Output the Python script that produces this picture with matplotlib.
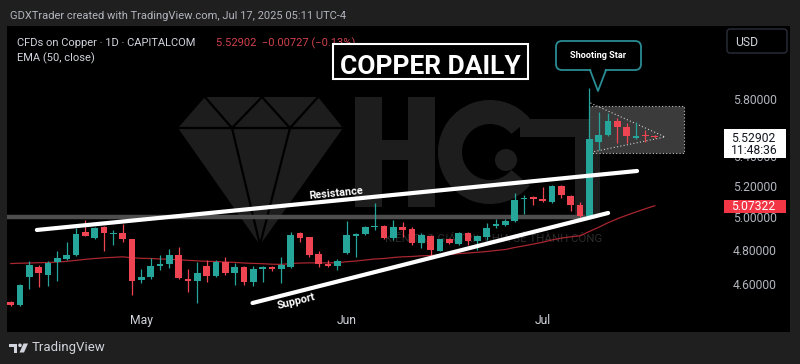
import numpy as np
import pandas as pd
import matplotlib
matplotlib.use("Agg")
import matplotlib.pyplot as plt
from matplotlib.patches import Rectangle, FancyBboxPatch, Polygon, Circle, Wedge
from matplotlib.ticker import NullLocator

plt.rcParams['font.family'] = ['Roboto', 'DejaVu Sans']

W, H = 800, 364

# daily bars, Apr 11 - Jul 17 2025 (weekdays)
dates = pd.bdate_range("2025-04-11", "2025-07-17")

opens = [4.496, 4.479, 4.639, 4.698, 4.651, 4.727, 4.745, 4.769, 4.909, 4.872,
         4.940, 4.896, 4.903, 4.866, 4.622, 4.639, 4.705, 4.716, 4.769, 4.628,
         4.616, 4.704, 4.645, 4.727, 4.663, 4.698, 4.610, 4.688, 4.698, 4.683,
         4.698, 4.903, 4.878, 4.775, 4.713, 4.704, 4.781, 4.886, 4.896, 4.941,
         4.946, 4.872, 4.940, 4.927, 4.841, 4.884, 4.793, 4.866, 4.835, 4.903,
         4.853, 4.878, 4.948, 4.952, 4.977, 5.116, 5.129, 5.116, 5.097, 5.200,
         5.135, 5.078, 5.004, 5.496, 5.544, 5.642, 5.600, 5.525, 5.547, 5.535]
highs = [4.499, 4.599, 4.733, 4.710, 4.733, 4.793, 4.847, 4.933, 4.983, 4.940,
         4.943, 4.921, 4.958, 4.868, 4.686, 4.751, 4.769, 4.805, 4.817, 4.686,
         4.727, 4.739, 4.739, 4.757, 4.721, 4.701, 4.701, 4.704, 4.704, 4.757,
         4.909, 4.909, 4.880, 4.793, 4.739, 4.745, 4.977, 4.903, 4.946, 5.091,
         4.952, 4.983, 4.971, 4.940, 4.903, 4.890, 4.868, 4.872, 4.909, 4.909,
         4.890, 4.964, 4.989, 4.989, 5.155, 5.142, 5.135, 5.194, 5.207, 5.207,
         5.142, 5.097, 5.878, 5.706, 5.699, 5.663, 5.628, 5.635, 5.579, 5.544]
lows = [4.476, 4.473, 4.570, 4.581, 4.587, 4.616, 4.739, 4.763, 4.881, 4.866,
        4.793, 4.829, 4.847, 4.536, 4.604, 4.628, 4.680, 4.692, 4.630, 4.553,
        4.490, 4.610, 4.639, 4.651, 4.593, 4.593, 4.587, 4.610, 4.674, 4.604,
        4.692, 4.847, 4.757, 4.698, 4.695, 4.680, 4.775, 4.757, 4.890, 4.921,
        4.866, 4.860, 4.878, 4.829, 4.811, 4.751, 4.791, 4.835, 4.829, 4.829,
        4.799, 4.860, 4.933, 4.948, 4.971, 5.021, 5.078, 5.097, 5.091, 5.123,
        5.040, 5.002, 5.000, 5.441, 5.537, 5.489, 5.489, 5.516, 5.496, 5.523]
closes = [4.479, 4.593, 4.710, 4.663, 4.721, 4.751, 4.769, 4.896, 4.884, 4.933,
          4.903, 4.904, 4.866, 4.616, 4.639, 4.704, 4.716, 4.769, 4.633, 4.616,
          4.663, 4.645, 4.727, 4.663, 4.698, 4.610, 4.686, 4.698, 4.683, 4.707,
          4.890, 4.872, 4.769, 4.716, 4.704, 4.733, 4.890, 4.894, 4.940, 4.948,
          4.872, 4.940, 4.921, 4.841, 4.890, 4.799, 4.866, 4.841, 4.903, 4.853,
          4.884, 4.933, 4.956, 4.979, 5.110, 5.124, 5.116, 5.105, 5.200, 5.142,
          5.078, 5.008, 5.514, 5.544, 5.644, 5.600, 5.537, 5.537, 5.536, 5.529]
ema50 = [4.718, 4.720, 4.721, 4.723, 4.724, 4.727, 4.731, 4.737, 4.743, 4.748,
         4.752, 4.755, 4.758, 4.752, 4.749, 4.748, 4.745, 4.744, 4.740, 4.737,
         4.734, 4.731, 4.730, 4.727, 4.725, 4.721, 4.719, 4.717, 4.714, 4.713,
         4.718, 4.721, 4.722, 4.722, 4.722, 4.723, 4.729, 4.733, 4.739, 4.745,
         4.748, 4.754, 4.758, 4.760, 4.764, 4.766, 4.769, 4.773, 4.777, 4.781,
         4.785, 4.790, 4.796, 4.802, 4.814, 4.824, 4.835, 4.846, 4.860, 4.871,
         4.879, 4.885, 4.912, 4.938, 4.966, 4.991, 5.013, 5.034, 5.054, 5.073]

last_price = 5.52902
last_change = -0.00727
last_pct = -0.13
ema_last = 5.07322
price_ticks = [4.6, 4.8, 5.0, 5.2, 5.4, 5.8]

# drawings (bar index, price)
level_price = 5.0
level_bars = [-0.4, 61.5]
res_bars, res_prices = [2.8, 67.1], [4.921, 5.299]
sup_bars, sup_prices = [25.9, 64.0], [4.490, 5.027]
box_bars, box_prices = [62.0, 72.1], [5.420, 5.749]
tri_bars, tri_prices = [62.1, 70.1, 62.3], [5.771, 5.530, 5.427]

GREEN = '#26a69a'
RED = '#ef4451'
TXT = '#d1d4dc'
WM = '#1d1d1d'

fig = plt.figure(figsize=(W / 100, H / 100), dpi=100, facecolor='#1f1f1f')

# background: black panel + watermark
bg = fig.add_axes([0, 0, 1, 1], zorder=0)
bg.set_xlim(0, W)
bg.set_ylim(H, 0)
bg.axis('off')
bg.add_patch(Rectangle((7, 26), 783, 306, fc='black', lw=0))
bg.add_patch(Polygon([(205, 97), (318, 97), (343, 128), (260, 245), (178, 128)], fc=WM, lw=0))
for seg in [((178, 128), (343, 128)), ((205, 97), (232, 128)), ((262, 97), (232, 128)),
            ((262, 97), (290, 128)), ((318, 97), (290, 128)),
            ((232, 128), (260, 245)), ((290, 128), (260, 245))]:
    bg.plot([seg[0][0], seg[1][0]], [seg[0][1], seg[1][1]], color='black', lw=1.6)
bg.add_patch(Rectangle((355, 97), 27, 110, fc=WM, lw=0))
bg.add_patch(Rectangle((408, 97), 27, 110, fc=WM, lw=0))
bg.add_patch(Rectangle((380, 140), 30, 20, fc=WM, lw=0))
bg.add_patch(Wedge((490, 152), 52, 40, 320, width=24, fc=WM, lw=0))
bg.add_patch(Circle((506, 160), 11, fc=WM, lw=0))
bg.add_patch(Rectangle((520, 119), 142, 18, fc=WM, lw=0))
bg.add_patch(Rectangle((575, 137), 25, 80, fc=WM, lw=0))
bg.text(494, 241, "KIẾN TẠO GIÁ TRỊ - CHIA SẺ THÀNH CÔNG", color='#2c2c2c',
        fontsize=8.2, ha='center', va='baseline')

# price chart
ax = fig.add_axes([7 / W, 54 / H, 715 / W, 284 / H], zorder=1)
ax.patch.set_alpha(0)
ax.set_yscale('log')
ax.set_xlim(-0.4, 76.2)
ax.set_ylim(4.4509, 6.356)
for s in ax.spines.values():
    s.set_visible(False)

x = np.arange(len(dates))
o, hi, lo, c = (np.array(a) for a in (opens, highs, lows, closes))
col = np.where(c >= o, GREEN, RED)

ax.plot(level_bars, [level_price, level_price], color='#4d4d4d', lw=3.2, zorder=1,
        solid_capstyle='butt')
ax.add_patch(Rectangle((box_bars[0], box_prices[0]), box_bars[1] - box_bars[0],
                       box_prices[1] - box_prices[0], fc='#3b3b3b', ec='#bdbdbd',
                       lw=0.8, ls=(0, (1, 2)), zorder=1.5))
ax.plot(tri_bars, tri_prices, color='#d0d0d0', lw=0.8, ls=(0, (1, 2)), zorder=1.6)
ax.plot(x, ema50, color='#a8262f', lw=0.9, zorder=2)

ax.vlines(x, lo, hi, colors=col, lw=0.9, zorder=3)
b_lo = np.minimum(o, c)
b_hi = np.maximum(np.maximum(o, c), b_lo * 1.0012)
ax.bar(x, b_hi - b_lo, bottom=b_lo, width=0.72, color=col, lw=0, zorder=4)

ax.plot(res_bars, res_prices, color='white', lw=3, solid_capstyle='round', zorder=5)
ax.plot(sup_bars, sup_prices, color='white', lw=3, solid_capstyle='round', zorder=5)
ax.text(34.8, 5.155, "Resistance", color='white', fontsize=7.8, fontweight='bold',
        rotation=5.6, ha='center', va='center', rotation_mode='anchor', zorder=6)
ax.text(30.6, 4.50, "Support", color='white', fontsize=7.8, fontweight='bold',
        rotation=14, ha='center', va='center', rotation_mode='anchor', zorder=6)

month_idx = [i for i in range(1, len(dates)) if dates[i].month != dates[i - 1].month]
ax.set_xticks(month_idx)
ax.set_xticklabels([dates[i].strftime('%b') for i in month_idx])
ax.yaxis.tick_right()
ax.set_yticks(price_ticks)
ax.set_yticklabels([f"{p:.5f}" for p in price_ticks])
ax.yaxis.set_minor_locator(NullLocator())
ax.tick_params(axis='x', length=0, pad=3, colors=TXT, labelsize=8.7)
ax.tick_params(axis='y', length=0, pad=8, colors='#b2b5be', labelsize=8.7)

# overlay: header, labels, boxes
ov = fig.add_axes([0, 0, 1, 1], zorder=2)
ov.set_xlim(0, W)
ov.set_ylim(H, 0)
ov.axis('off')
ov.patch.set_alpha(0)

ov.text(10, 19, "GDXTrader created with TradingView.com, Jul 17, 2025 05:11 UTC-4",
        color='#b2b5be', fontsize=8, va='baseline')
ov.text(17, 46.5, "CFDs on Copper · 1D · CAPITALCOM", color=TXT, fontsize=8, va='baseline')
ov.text(216, 46.5, f"{last_price:.5f}  \u2212{abs(last_change):.5f} (\u2212{abs(last_pct):.2f}%)",
        color='#d0414b', fontsize=8, va='baseline')
ov.text(17, 61, "EMA (50, close)", color=TXT, fontsize=8, va='baseline')

ov.add_patch(Rectangle((333, 44), 195, 35, fc='black', ec='white', lw=1.5, zorder=3))
ov.text(430.5, 73.5, "COPPER DAILY", color='white', fontsize=19, fontweight='bold',
        ha='center', va='baseline', zorder=4)

teal = '#2a8c95'
ov.add_patch(FancyBboxPatch((556, 41), 85, 29, boxstyle='round,pad=0,rounding_size=6',
                            fc='black', ec=teal, lw=1.3, zorder=3))
ov.add_patch(Polygon([(590.5, 68), (598, 91), (605.5, 68)], fc='black', lw=0, zorder=4))
ov.plot([590, 598, 606], [70, 91, 70], color=teal, lw=1.3, zorder=5)
ov.text(598.5, 58.3, "Shooting Star", color='white', fontsize=6.6, fontweight='bold',
        ha='center', va='baseline', zorder=6)

ov.add_patch(FancyBboxPatch((727, 29), 60, 24, boxstyle='round,pad=0,rounding_size=3',
                            fc='black', ec='#2a2e39', lw=1, zorder=3))
ov.text(735, 46, "USD", color=TXT, fontsize=8.7, va='baseline', zorder=4)


def ypix(p):
    return H - ax.transData.transform((0, p))[1]


yl = ypix(last_price)
ov.add_patch(Rectangle((724, yl - 8), 62, 29, fc='white', lw=0, zorder=3))
ov.text(731.5, yl + 4.5, f"{last_price:.5f}", color='#131722', fontsize=8.7,
        va='baseline', zorder=4)
ov.text(731, yl + 17, "11:48:36", color='#131722', fontsize=8.7, va='baseline', zorder=4)

ye = ypix(ema_last)
ov.add_patch(Rectangle((724, ye - 6), 62, 13, fc='#f23645', lw=0, zorder=3))
ov.text(731.5, ye + 4.5, f"{ema_last:.5f}", color='white', fontsize=8.7,
        va='baseline', zorder=4)

# TradingView footer
ov.add_patch(Rectangle((9, 343.5), 8, 3.5, fc=TXT, lw=0))
ov.add_patch(Rectangle((13.5, 343.5), 3.5, 9, fc=TXT, lw=0))
ov.add_patch(Circle((20, 345.3), 1.8, fc=TXT, lw=0))
ov.add_patch(Polygon([(23.5, 343.5), (28, 343.5), (24, 352.5), (19.5, 352.5)], fc=TXT, lw=0))
ov.text(32, 351.5, "TradingView", color=TXT, fontsize=9.5, va='baseline')

fig.savefig('out.png', dpi=100, facecolor=fig.get_facecolor())
